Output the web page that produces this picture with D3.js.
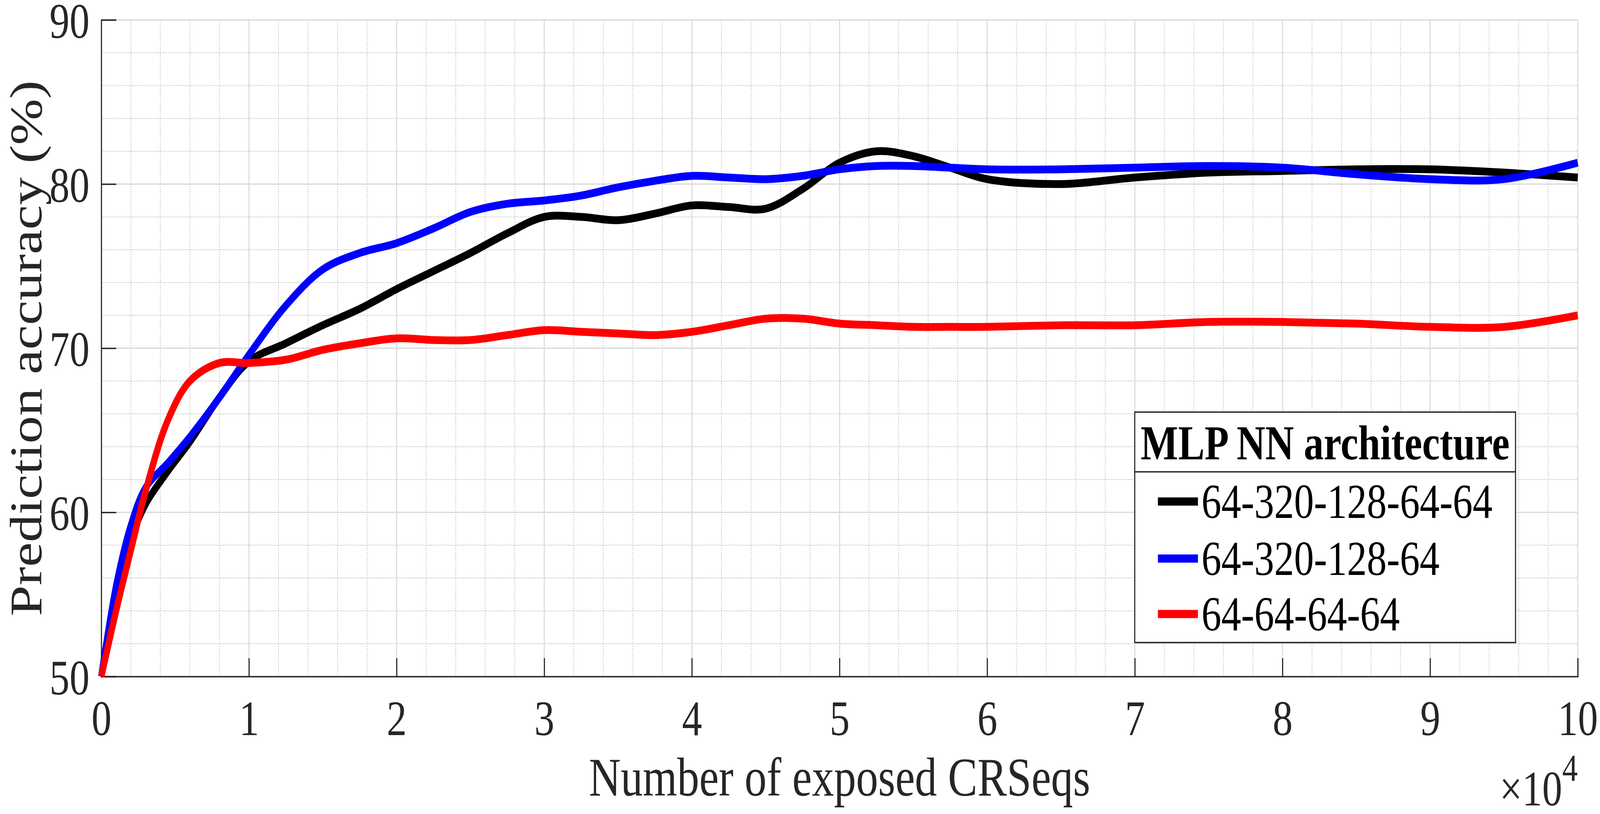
<!DOCTYPE html>
<html lang="en">
<head>
  <meta charset="UTF-8">
  <title>Prediction accuracy vs exposed CRSeqs</title>
  <script src="https://d3js.org/d3.v7.min.js"></script>
  <style>
    html, body { margin: 0; padding: 0; background: #fff; overflow: hidden; }
    svg { display: block; width: 100vw; height: 100vh; font-family: "Liberation Serif", "Times New Roman", serif; }
  </style>
</head>
<body>
  <svg viewBox="0 0 5038 2084" preserveAspectRatio="none"></svg>
  <script>
    // x in units of 10^4 exposed CRSeqs
    const xs = [0, 0.1, 0.2, 0.3, 0.45, 0.6, 0.8, 1.0, 1.25, 1.5, 1.75, 2.0, 2.25, 2.5, 2.75, 3.0,
                3.25, 3.5, 3.75, 4.0, 4.25, 4.5, 4.75, 5.0, 5.25, 5.5, 5.75, 6.0, 6.5, 7.0, 7.5,
                8.0, 8.5, 9.0, 9.5, 10];
    const acc_64_320_128_64_64 = [50, 54.5, 58.3, 60.5, 62.5, 64.3, 67.0, 69.2, 70.3, 71.4, 72.4, 73.6,
                74.7, 75.8, 77.0, 78.0, 78.0, 77.8, 78.2, 78.7, 78.6, 78.5, 79.7, 81.3, 82.0, 81.7,
                81.0, 80.3, 80.0, 80.4, 80.7, 80.8, 80.9, 80.9, 80.7, 80.4];
    const acc_64_320_128_64 = [50, 55.5, 59.2, 61.5, 63.0, 64.6, 67.0, 69.6, 72.6, 74.8, 75.8, 76.4,
                77.3, 78.3, 78.8, 79.0, 79.3, 79.8, 80.2, 80.5, 80.4, 80.3, 80.5, 80.9, 81.1, 81.1,
                81.0, 80.9, 80.9, 81.0, 81.1, 81.0, 80.6, 80.3, 80.3, 81.3];
    const acc_64_64_64_64 = [50, 54.0, 57.7, 61.3, 65.6, 68.0, 69.1, 69.1, 69.3, 69.9, 70.3, 70.6,
                70.5, 70.5, 70.8, 71.1, 71.0, 70.9, 70.8, 71.0, 71.4, 71.8, 71.8, 71.5, 71.4, 71.3,
                71.3, 71.3, 71.4, 71.4, 71.6, 71.6, 71.5, 71.3, 71.3, 72.0];

    const seriesNames = ["64-320-128-64-64", "64-320-128-64", "64-64-64-64"];
    const seriesColors = ["#000000", "#0000ff", "#ff0000"];
    const seriesValues = [acc_64_320_128_64_64, acc_64_320_128_64, acc_64_64_64_64];

    const xTicks = [0, 1, 2, 3, 4, 5, 6, 7, 8, 9, 10];
    const yTicks = [50, 60, 70, 80, 90];

    // drawing is laid out in a 5038 x 2084 coordinate space (viewBox)
    const svg = d3.select("svg");
    const axisColor = "#262626";
    const pLeft = 319, pRight = 4968, pTop = 51, pBottom = 1732;

    const x = d3.scaleLinear().domain([0, 10]).range([pLeft, pRight]);
    const y = d3.scaleLinear().domain([50, 90]).range([pBottom, pTop]);

    // minor grid (dotted)
    const grid = svg.append("g");
    d3.range(0, 10.001, 0.2).filter(v => Math.abs(v - Math.round(v)) > 1e-6).forEach(v => {
      grid.append("line")
        .attr("x1", x(v)).attr("x2", x(v)).attr("y1", pTop).attr("y2", pBottom)
        .attr("stroke", "#bdbdbd").attr("stroke-width", 2.5).attr("stroke-dasharray", "2.5,3.5");
    });
    d3.range(50, 90.001, 2).filter(v => v % 10 !== 0).forEach(v => {
      grid.append("line")
        .attr("x1", pLeft).attr("x2", pRight).attr("y1", y(v)).attr("y2", y(v))
        .attr("stroke", "#bdbdbd").attr("stroke-width", 2.5).attr("stroke-dasharray", "2.5,3.5");
    });
    // major grid
    xTicks.forEach(v => {
      grid.append("line")
        .attr("x1", x(v)).attr("x2", x(v)).attr("y1", pTop).attr("y2", pBottom)
        .attr("stroke", "#dcdcdc").attr("stroke-width", 3.5);
    });
    yTicks.forEach(v => {
      grid.append("line")
        .attr("x1", pLeft).attr("x2", pRight).attr("y1", y(v)).attr("y2", y(v))
        .attr("stroke", "#dcdcdc").attr("stroke-width", 3.5);
    });

    // axes (inward ticks, box off)
    const xAxis = d3.axisBottom(x).tickValues(xTicks).tickSize(-47).tickPadding(0).tickFormat(d3.format("d"));
    const yAxis = d3.axisLeft(y).tickValues(yTicks).tickSize(-47).tickPadding(0).tickFormat(d3.format("d"));

    const gx = svg.append("g").attr("transform", `translate(0,${pBottom})`).call(xAxis);
    const gy = svg.append("g").attr("transform", `translate(${pLeft},0)`).call(yAxis);

    [gx, gy].forEach(g => {
      g.select(".domain").attr("stroke", axisColor).attr("stroke-width", 3.5);
      g.selectAll(".tick line").attr("stroke", axisColor).attr("stroke-width", 3.5);
      g.selectAll(".tick text").attr("fill", axisColor).style("font-size", "126px")
        .style("font-family", "'Liberation Serif', serif");
    });
    gx.selectAll(".tick text").attr("y", 150).attr("dy", 0);
    gy.selectAll(".tick text").attr("x", -37).attr("dy", 45);

    // axis labels
    svg.append("text")
      .attr("x", (pLeft + pRight) / 2).attr("y", 2037)
      .attr("text-anchor", "middle").attr("fill", axisColor)
      .style("font-size", "139px")
      .text("Number of exposed CRSeqs");

    svg.append("text")
      .attr("transform", `translate(130,${(pTop + pBottom) / 2}) rotate(-90)`)
      .attr("text-anchor", "middle").attr("fill", axisColor)
      .style("font-size", "142px")
      .text("Prediction accuracy (%)");

    const expo = svg.append("text")
      .attr("x", pRight).attr("y", 2062)
      .attr("text-anchor", "end").attr("fill", axisColor)
      .style("font-size", "126px");
    expo.append("tspan").text("\u00d710");
    expo.append("tspan").attr("dy", -63).style("font-size", "98px").text("4");

    // lines
    const line = d3.line()
      .x(d => x(d[0]))
      .y(d => y(d[1]))
      .curve(d3.curveCatmullRom.alpha(0.5));

    seriesValues.forEach((vals, i) => {
      svg.append("path")
        .datum(xs.map((xv, j) => [xv, vals[j]]))
        .attr("fill", "none")
        .attr("stroke", seriesColors[i])
        .attr("stroke-width", 20)
        .attr("stroke-linejoin", "round")
        .attr("d", line);
    });

    // legend
    const lg = { x0: 3573, y0: 1055, x1: 4772, y1: 1645, sep: 1208 };
    const legend = svg.append("g");
    legend.append("rect")
      .attr("x", lg.x0).attr("y", lg.y0)
      .attr("width", lg.x1 - lg.x0).attr("height", lg.y1 - lg.y0)
      .attr("fill", "#fff").attr("stroke", axisColor).attr("stroke-width", 3.5);
    legend.append("line")
      .attr("x1", lg.x0).attr("x2", lg.x1).attr("y1", lg.sep).attr("y2", lg.sep)
      .attr("stroke", axisColor).attr("stroke-width", 3.5);
    legend.append("text")
      .attr("x", (lg.x0 + lg.x1) / 2).attr("y", 1176)
      .attr("text-anchor", "middle").attr("fill", "#000")
      .style("font-size", "125px").style("font-weight", "bold")
      .text("MLP NN architecture");

    const rowY = [1284, 1430, 1572];
    seriesNames.forEach((name, i) => {
      legend.append("line")
        .attr("x1", 3646).attr("x2", 3772).attr("y1", rowY[i]).attr("y2", rowY[i])
        .attr("stroke", seriesColors[i]).attr("stroke-width", 21);
      legend.append("text")
        .attr("x", 3783).attr("y", rowY[i] + 42)
        .attr("fill", "#000").style("font-size", "125px")
        .text(name);
    });
  </script>
</body>
</html>
